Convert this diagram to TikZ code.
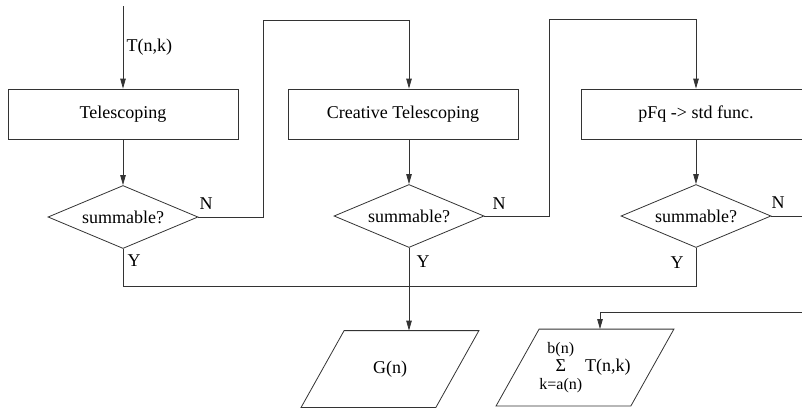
\documentclass[tikz,border=0pt]{standalone}
\usepackage{fontspec}
\setmainfont{Liberation Serif}
\usetikzlibrary{shapes.geometric,arrows.meta}
\tikzset{
  proc/.style={draw,minimum width=230pt,minimum height=50pt,inner sep=0pt},
  decide/.style={draw,diamond,aspect=2.4,minimum width=150pt,minimum height=63pt,inner sep=0pt},
  io/.style={minimum width=177pt,minimum height=76pt,inner sep=0pt},
  flow/.style={-{Triangle[width=5.5pt,length=10pt]}}
}
% slanted outline round an io node
\newcommand\parabox[1]{\draw ([xshift=43pt]#1.north west) -- (#1.north east)
  -- ([xshift=-43pt]#1.south east) -- (#1.south west) -- cycle;}
\begin{document}
\begin{tikzpicture}[x=1pt,y=-1pt,line width=0.8pt,draw=black!80,font=\fontsize{18}{18}\selectfont]
\useasboundingbox (0,0) rectangle (802,408);

\node[proc] (tele) at (123,114) {Telescoping};
\node[proc] (ct) at (403,114) {Creative Telescoping};
\node[proc] (pfq) at (696,114) {pFq -> std func.};

\node[decide] (d1) at (123,217) {summable?};
\node[decide] (d2) at (409,216) {summable?};
\node[decide] (d3) at (696,216) {summable?};

\node[io] (gn) at (390,369) {G(n)};
\node[io] (sum) at (585,367.5) {\begin{tabular}{@{}c@{}}{\fontsize{16}{16}\selectfont b(n)}\\Σ\\{\fontsize{16}{16}\selectfont k=a(n)}\end{tabular}\,T(n,k)};
\parabox{gn}
\parabox{sum}

\node (n1) at (206,204) {N};
\node (n2) at (499,204) {N};
\node (n3) at (778,203) {N};
\node (y1) at (134,261) {Y};
\node (y2) at (423,262) {Y};
\node (y3) at (677,263) {Y};

\coordinate (src) at (123,6);
\coordinate (out) at (802,216);
\coordinate (back) at (802,312);

\draw[flow] (src) -- node[right]{T(n,k)} (tele);
\draw[flow] (tele) -- (d1);
\draw[flow] (ct.south -| d2) -- (d2);
\draw[flow] (pfq) -- (d3);

\draw[flow] (d1.east) -| (263,20) -| (ct.north -| d2);
\draw[flow] (d2.east) -| (549,19) -| (pfq);
\draw (d3.east) -- (out);

\draw (d1.south) -- ++(0,37.5) -| (d3.south);
\draw[flow] (d2.south) -- (d2.south |- gn.north);
\draw[flow] (back) -| (600,0 |- sum.north);
\end{tikzpicture}
\end{document}
